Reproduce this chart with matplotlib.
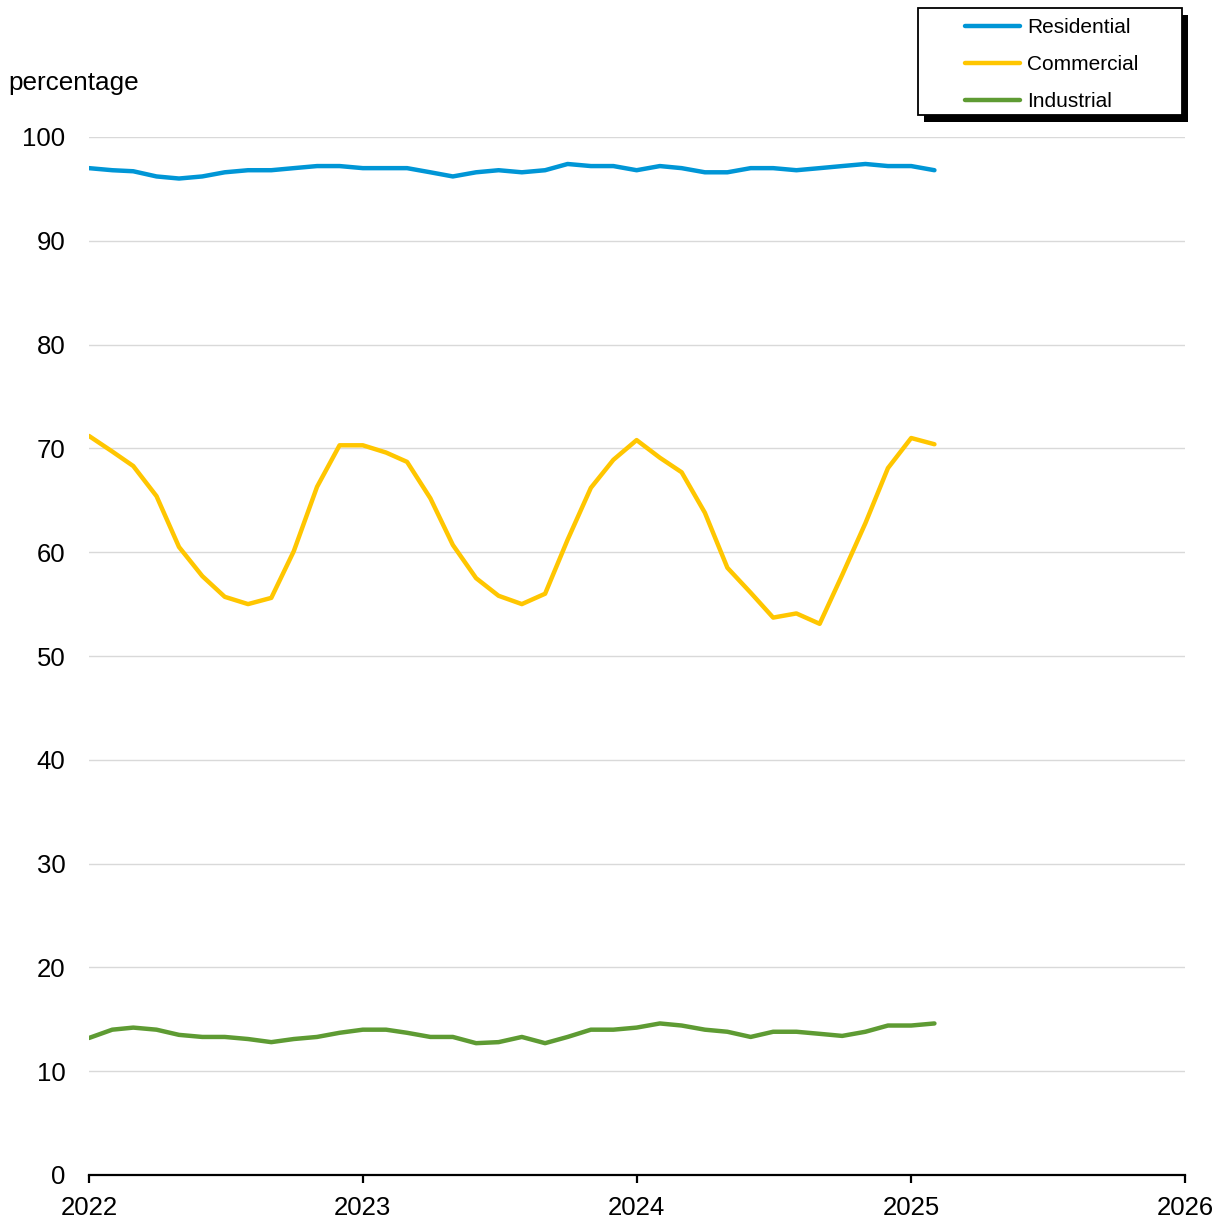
import matplotlib
matplotlib.use("Agg")
import matplotlib.pyplot as plt
from matplotlib.patches import Rectangle
import pandas as pd

plt.rcParams['font.family'] = ['Liberation Sans', 'DejaVu Sans']

start_month = "2022-01-01"
n_months = 38

residential = [97.0, 96.8, 96.7, 96.2, 96.0, 96.2, 96.6, 96.8, 96.8, 97.0, 97.2, 97.2,
               97.0, 97.0, 97.0, 96.6, 96.2, 96.6, 96.8, 96.6, 96.8, 97.4, 97.2, 97.2,
               96.8, 97.2, 97.0, 96.6, 96.6, 97.0, 97.0, 96.8, 97.0, 97.2, 97.4, 97.2,
               97.2, 96.8]
commercial = [71.2, 69.7, 68.3, 65.4, 60.5, 57.7, 55.7, 55.0, 55.6, 60.1, 66.3, 70.3,
              70.3, 69.6, 68.7, 65.2, 60.7, 57.5, 55.8, 55.0, 56.0, 61.2, 66.2, 68.9,
              70.8, 69.1, 67.7, 63.8, 58.5, 56.1, 53.7, 54.1, 53.1, 57.8, 62.8, 68.1,
              71.0, 70.4]
industrial = [13.2, 14.0, 14.2, 14.0, 13.5, 13.3, 13.3, 13.1, 12.8, 13.1, 13.3, 13.7,
              14.0, 14.0, 13.7, 13.3, 13.3, 12.7, 12.8, 13.3, 12.7, 13.3, 14.0, 14.0,
              14.2, 14.6, 14.4, 14.0, 13.8, 13.3, 13.8, 13.8, 13.6, 13.4, 13.8, 14.4,
              14.4, 14.6]

series_names = ["Residential", "Commercial", "Industrial"]
colors = ["#0096D6", "#FFC600", "#5E9B33"]
year_ticks = ["2022", "2023", "2024", "2025", "2026"]
y_ticks = [0, 10, 20, 30, 40, 50, 60, 70, 80, 90, 100]

dates = pd.date_range(start_month, periods=n_months, freq="MS")

W, H = 1228, 1222
fig = plt.figure(figsize=(W / 100, H / 100), dpi=100)
ax = fig.add_axes([89 / W, 1 - 1175 / H, (1185 - 89) / W, (1175 - 137) / H])

lines = []
for vals, name, c in zip([residential, commercial, industrial], series_names, colors):
    ln, = ax.plot(dates, vals, color=c, lw=3.2, label=name, solid_capstyle='round',
                  solid_joinstyle='round')
    lines.append(ln)

ax.set_ylim(0, 100)
ax.set_yticks(y_ticks)
ax.set_xlim(pd.Timestamp(year_ticks[0] + "-01-01"), pd.Timestamp(year_ticks[-1] + "-01-01"))
ax.set_xticks([pd.Timestamp(y + "-01-01") for y in year_ticks])
ax.set_xticklabels(year_ticks)

ax.yaxis.grid(True, color="#D9D9D9", lw=1.0)
ax.set_axisbelow(True)
for s in ["top", "right", "left"]:
    ax.spines[s].set_visible(False)
ax.spines["bottom"].set_linewidth(1.6)
ax.spines["bottom"].set_color("black")
ax.spines["bottom"].set_zorder(5)

ax.tick_params(axis="y", length=0, pad=17, labelsize=18.5)
ax.tick_params(axis="x", direction="out", length=6, width=1.6, pad=9, labelsize=18.5)

fig.text(8 / W, 1 - 83 / H, "percentage", ha="left", va="center", fontsize=18.8)

# legend frame with shadow
fig.patches.append(Rectangle((924 / W, 1 - 122 / H), 264 / W, 107 / H,
                             transform=fig.transFigure, facecolor="black",
                             edgecolor="none", zorder=1))
fig.patches.append(Rectangle((918 / W, 1 - 115 / H), 264 / W, 107 / H,
                             transform=fig.transFigure, facecolor="white",
                             edgecolor="black", lw=1.3, zorder=2))

leg = fig.legend(handles=lines, labels=series_names, loc="upper left",
                 bbox_to_anchor=(965 / W, 1 - 18 / H), frameon=False,
                 fontsize=15, handlelength=2.65, handletextpad=0.34,
                 labelspacing=0.86, borderpad=0, borderaxespad=0)
leg.set_zorder(3)

fig.savefig("out.png", dpi=100)
